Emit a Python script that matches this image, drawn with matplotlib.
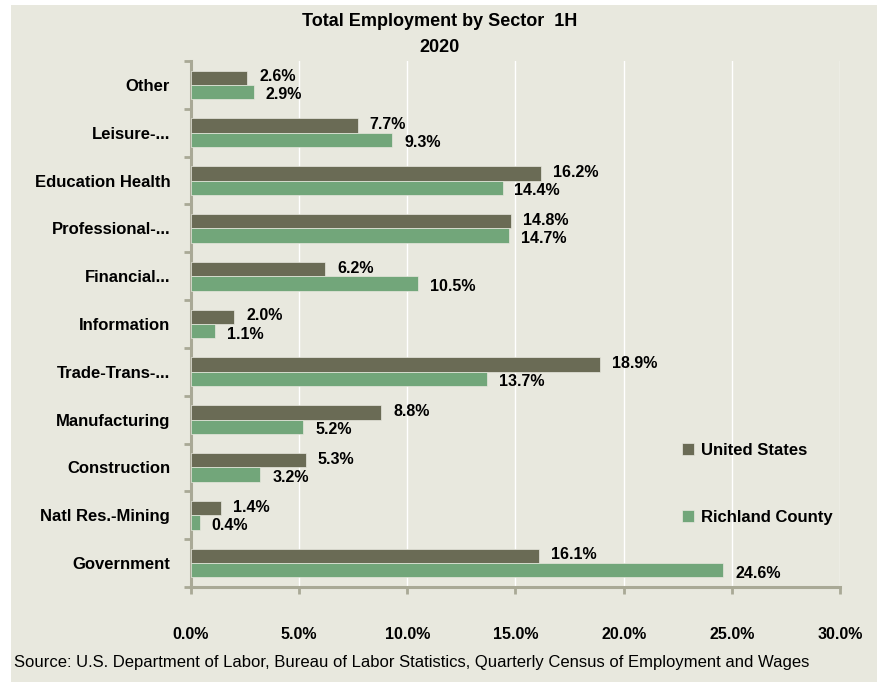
import numpy as np
import matplotlib.pyplot as plt
from matplotlib.patches import Rectangle

categories = ['Other', 'Leisure-...', 'Education Health', 'Professional-...', 'Financial...',
              'Information', 'Trade-Trans-...', 'Manufacturing', 'Construction',
              'Natl Res.-Mining', 'Government']
us = [2.6, 7.7, 16.2, 14.8, 6.2, 2.0, 18.9, 8.8, 5.3, 1.4, 16.1]
richland = [2.9, 9.3, 14.4, 14.7, 10.5, 1.1, 13.7, 5.2, 3.2, 0.4, 24.6]
xticks = [0, 5, 10, 15, 20, 25, 30]

bg = '#E8E8DE'
c_us = '#6A6B55'
c_rc = '#72A67A'
axis_c = '#A9A996'

plt.rcParams['font.family'] = ['Liberation Sans', 'DejaVu Sans']

fig = plt.figure(figsize=(8.78, 6.82), dpi=100)
fig.patch.set_facecolor('white')
fig.patches.append(Rectangle((11/878, 0), 1, 1 - 5/682, transform=fig.transFigure,
                             facecolor=bg, edgecolor='none', zorder=-10))

ax = fig.add_axes([191/878, 1 - 587/682, (840-191)/878, (587-61)/682])
ax.set_facecolor(bg)

n = len(categories)
y = np.arange(n)
h = 0.3
ax.barh(y - h/2, us, height=h, color=c_us, edgecolor=bg, linewidth=0.5, label='United States', zorder=3)
ax.barh(y + h/2, richland, height=h, color=c_rc, edgecolor=bg, linewidth=0.5, label='Richland County', zorder=3)

for i in range(n):
    ax.text(us[i] + 0.55, y[i] - h/2 - 0.02, f'{us[i]:.1f}%', va='center', ha='left',
            fontsize=11.5, fontweight='bold', zorder=4)
    ax.text(richland[i] + 0.55, y[i] + h/2 + 0.06, f'{richland[i]:.1f}%', va='center', ha='left',
            fontsize=11.5, fontweight='bold', zorder=4)

ax.set_ylim(n - 0.5, -0.5)
ax.set_xlim(0, 30)
ax.set_xticks(xticks)
ax.set_xticklabels([f'{v:.1f}%' for v in xticks], fontsize=11.5, fontweight='bold')
ax.set_yticks(y)
ax.set_yticklabels(categories, fontsize=12, fontweight='bold')
ax.set_yticks(np.arange(-0.5, n, 1), minor=True)
ax.tick_params(axis='y', which='major', length=0, pad=15)
ax.tick_params(axis='y', which='minor', length=5, width=2, color=axis_c)
ax.tick_params(axis='x', length=5, width=2, color=axis_c, pad=24)

ax.grid(axis='x', color='white', linewidth=1, zorder=0)
for s in ['top', 'right']:
    ax.spines[s].set_visible(False)
for s in ['left', 'bottom']:
    ax.spines[s].set_color(axis_c)
    ax.spines[s].set_linewidth(2.2)

leg = ax.legend(loc='upper left', bbox_to_anchor=(0.733, 0.302), frameon=False,
                handlelength=0.75, handleheight=0.75, handletextpad=0.4, labelspacing=3.1,
                prop={'size': 12, 'weight': 'bold'})

fig.text(440/878, 1 - 22/682, 'Total Employment by Sector  1H', ha='center', va='center',
         fontsize=13, fontweight='bold')
fig.text(440/878, 1 - 47/682, '2020', ha='center', va='center', fontsize=13, fontweight='bold')
fig.text(14/878, 1 - 662/682, 'Source: U.S. Department of Labor, Bureau of Labor Statistics, '
         'Quarterly Census of Employment and Wages', ha='left', va='center', fontsize=12)

fig.savefig('out.png', dpi=100, facecolor=fig.get_facecolor())
